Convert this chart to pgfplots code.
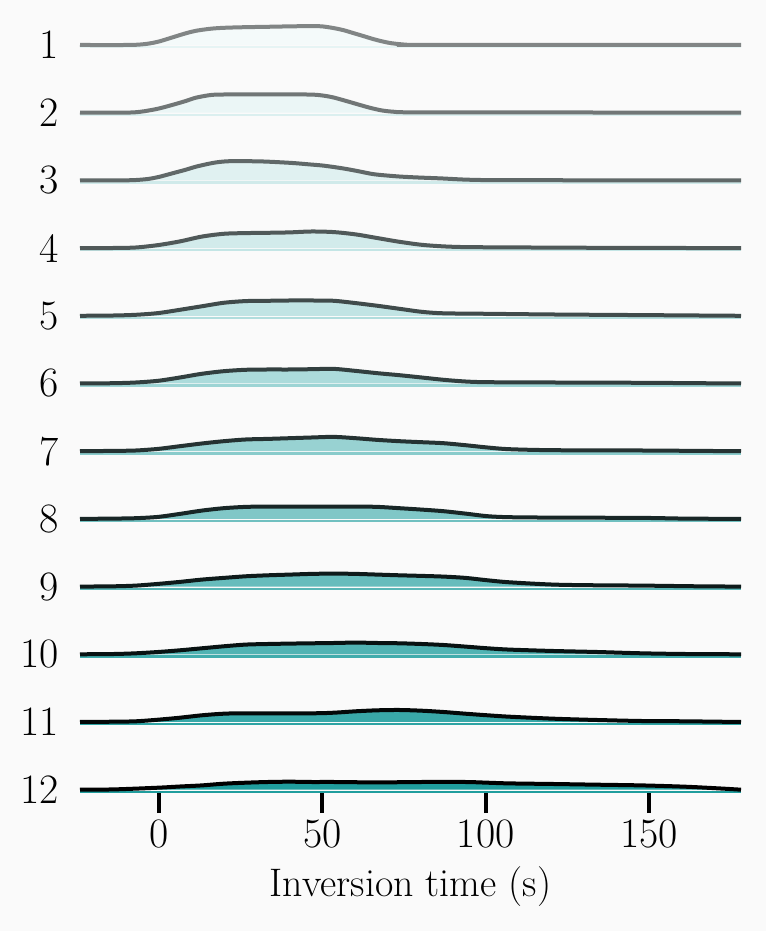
\documentclass[border=0pt]{standalone}
\usepackage{pgfplots}
\pgfplotsset{compat=1.18}
\usepackage{pgfplotstable}

\definecolor{teal0}{RGB}{32,157,157}
\definecolor{bg}{RGB}{250,250,250}
% fill shade, baseline strip, outline for each row
\colorlet{f1}{teal0!5!white}   \colorlet{s1}{teal0!11!white}  \colorlet{l1}{black!47!f1}
\colorlet{f2}{teal0!9!white}   \colorlet{s2}{teal0!16!white}  \colorlet{l2}{black!52!f2}
\colorlet{f3}{teal0!14!white}  \colorlet{s3}{teal0!21!white}  \colorlet{l3}{black!57!f3}
\colorlet{f4}{teal0!20!white}  \colorlet{s4}{teal0!27!white}  \colorlet{l4}{black!62!f4}
\colorlet{f5}{teal0!28!white}  \colorlet{s5}{teal0!35!white}  \colorlet{l5}{black!67!f5}
\colorlet{f6}{teal0!37!white}  \colorlet{s6}{teal0!44!white}  \colorlet{l6}{black!71!f6}
\colorlet{f7}{teal0!46!white}  \colorlet{s7}{teal0!53!white}  \colorlet{l7}{black!76!f7}
\colorlet{f8}{teal0!57!white}  \colorlet{s8}{teal0!64!white}  \colorlet{l8}{black!81!f8}
\colorlet{f9}{teal0!68!white}  \colorlet{s9}{teal0!75!white}  \colorlet{l9}{black!86!f9}
\colorlet{f10}{teal0!78!white} \colorlet{s10}{teal0!85!white} \colorlet{l10}{black!90!f10}
\colorlet{f11}{teal0!89!white} \colorlet{s11}{teal0!94!white} \colorlet{l11}{black!95!f11}
\colorlet{f12}{teal0}          \colorlet{s12}{teal0}          \colorlet{l12}{black}

% x = time (s), h = ridge height (px)
\pgfplotstableread{
x h
-24.2 0
-10 0
-6 0.4
-3 1.5
0 3.5
4 7.5
8 11.5
11.3 14.2
15.9 16.3
20 17.2
26.3 17.8
35 18.3
41.3 18.7
49 18.8
53.3 17
56.5 14.8
59.4 12
62.5 9
65.5 6
68.5 3.5
71.3 1.7
76 0.2
80 0
178.2 0
}\tA
\pgfplotstableread{
x h
-24.2 0
-10 0.1
-6 0.8
-3 2.3
0 4.2
4 7.7
8 11.5
11.3 15
15.9 17.7
20 18.2
26.3 18.3
41.3 18.3
47.4 18
50.5 17
53.3 15.3
57 12
60.9 8.3
64.5 5
68.3 2.2
72 0.9
76 0.4
100 0.3
130 0.2
178.2 0
}\tB
\pgfplotstableread{
x h
-24.2 0
-10 0.1
-6 0.6
-3 1.6
0 3.5
4 7
8 10.5
11.3 13.7
15 16.5
17.5 18
20 18.9
23.3 19.3
30.9 19
36 18.3
41.3 17.3
46 16
50.5 14.7
56.3 12
61 9.2
65.5 6.3
70 4.8
74.4 3.7
80 2.8
86.3 2
95.5 0.6
110 0.2
178.2 0
}\tC
\pgfplotstableread{
x h
-24.2 0
-13.8 0.1
-7.1 0.6
-0.3 3
6.4 6.7
13.1 11.5
19.8 14.3
26.5 15
33.3 15.3
40 15.7
46.7 16.6
53.5 16
60.2 13.7
66.9 10
73.6 6.3
80.4 3.3
87.1 1.7
93.8 1
107.3 0.7
134.2 0.3
160 0.1
178.2 0
}\tD
\pgfplotstableread{
x h
-24.2 0
-13.8 0.3
-7.1 1
-0.3 2.7
6.4 6
13.1 9.5
19.8 13
26.5 14.7
33.3 15
40 15.3
46.7 15.3
53.5 15
60.2 12.7
66.9 10
73.6 7
80.4 4
87.1 2.5
100.6 2
120.8 1.3
147.7 0.7
165 0.3
178.2 0
}\tE
\pgfplotstableread{
x h
-24.2 0
-13.8 0.3
-7.1 1
-0.3 2.7
6.4 6
13.1 9.7
19.8 12.3
26.5 13.7
33.3 14
40 14
46.7 14.3
53.5 14.6
60.2 12.6
66.9 10.3
73.6 8.3
80.4 6
87.1 3.7
93.8 2
100.6 1.3
120.8 1
147.7 0.7
165 0.3
178.2 0
}\tF
\pgfplotstableread{
x h
-24.2 0
-13.8 0.3
-7.1 0.7
-0.3 2.3
6.4 5
13.1 7.7
19.8 10
26.5 11.7
33.3 12.3
40 13
46.7 13.7
53.5 14.3
60.2 13
66.9 11.3
73.6 10
80.4 9
87.1 8
93.8 6
100.6 3.7
107.3 2
120.8 1
147.7 0.7
165 0.3
178.2 0
}\tG
\pgfplotstableread{
x h
-24.2 0
-13.8 0.3
-7.1 0.7
-0.3 2
6.4 5
13.1 8.3
19.8 10.7
26.5 12
33.3 12.3
60.2 12.3
66.9 12
73.6 10.7
80.4 9.3
87.1 7.7
93.8 5.3
100.6 2.7
107.3 1.7
120.8 1.3
147.7 1
161 0.3
178.2 0
}\tH
\pgfplotstableread{
x h
-24.2 0
-13.8 0.3
-7.1 1
-0.3 2.7
6.4 4.7
13.1 7
19.8 8.7
26.5 10.3
33.3 11.3
40 12
46.7 12.7
53.5 13
60.2 12.7
66.9 12
73.6 11.3
80.4 10.7
87.1 10
93.8 8.7
100.6 6.3
107.3 4.3
120.8 2
134.2 1.3
147.7 1
165 0.3
178.2 0
}\tI
\pgfplotstableread{
x h
-24.2 0
-13.8 0.3
-7.1 1
-0.3 2.3
6.4 4
13.1 6
19.8 8
26.5 9.7
33.3 10.3
40 10.7
46.7 11
53.5 11.3
60.2 11.7
66.9 11.3
73.6 11
80.4 10.3
87.1 9.3
93.8 7.7
100.6 6
107.3 4.7
120.8 3.3
134.2 2.3
147.7 1
161.1 0.3
178.2 0
}\tJ
\pgfplotstableread{
x h
-24.2 0
-13.8 0.3
-7.1 0.7
-0.3 2.3
6.4 4.3
13.1 6.7
19.8 8.3
26.5 8.7
46.7 8.7
53.5 9.3
60.2 10.7
66.9 11.7
73.6 12
80.4 11.3
87.1 10
93.8 8.3
100.6 6.7
107.3 5.3
120.8 3.3
134.2 2
147.7 1
161.1 0.7
178.2 0
}\tK
\pgfplotstableread{
x h
-24.2 0
-13.8 0.3
-0.3 2
6.4 3.2
13.1 4.3
19.8 6
26.5 7
33.3 7.7
40 8
46.7 7.7
53.5 7.7
66.9 7.3
80.4 7.7
93.8 7.7
100.6 7
107.3 6.3
120.8 5.7
134.2 5
147.7 4.3
161.1 3
172 1.2
178.2 0
}\tL

% #1 table, #2 baseline, #3 colour index
\newcommand{\ridge}[3]{%
  \addplot[draw=none, fill=f#3, smooth, tension=0.5] table[x=x, y expr=\thisrow{h}+(#2)] {#1};
  \addplot[draw=s#3, line width=1.2bp] table[x=x, y expr=(#2)-2.2] {#1};
  \addplot[draw=l#3, line width=2bp, smooth, tension=0.5] table[x=x, y expr=\thisrow{h}+(#2)] {#1};
}

\begin{document}
\begin{tikzpicture}
\fill[bg] (0,0) rectangle (383bp,465.5bp);
\begin{axis}[
  at={(40bp,69bp)}, anchor=south west,
  scale only axis, width=330.5bp, height=389bp,
  xmin=-24.2, xmax=178.2, ymin=-793, ymax=-15,
  clip=false,
  axis line style={draw=none},
  xtick={0,50,100,150},
  ytick={-789.7,-722,-654.3,-586.6,-518.9,-451.2,-383.5,-315.8,-248.1,-180.4,-112.7,-45},
  yticklabels={12,11,10,9,8,7,6,5,4,3,2,1},
  xtick pos=left, ytick pos=left,
  xtick align=outside, ytick align=inside,
  major tick length=10bp,
  x tick style={black, line width=2bp},
  y tick style={draw=none},
  /pgf/number format/assume math mode=true,
  yticklabel style={xshift=-7bp},
  ticklabel style={font=\fontsize{21}{25}\selectfont},
  label style={font=\fontsize{20}{24}\selectfont},
  xlabel style={yshift=-2.5bp},
  xlabel={Inversion time (s)},
]
\ridge{\tA}{-45}{1}
\ridge{\tB}{-112.7}{2}
\ridge{\tC}{-180.4}{3}
\ridge{\tD}{-248.1}{4}
\ridge{\tE}{-315.8}{5}
\ridge{\tF}{-383.5}{6}
\ridge{\tG}{-451.2}{7}
\ridge{\tH}{-518.9}{8}
\ridge{\tI}{-586.6}{9}
\ridge{\tJ}{-654.3}{10}
\ridge{\tK}{-722}{11}
\ridge{\tL}{-789.7}{12}
\end{axis}
\end{tikzpicture}
\end{document}
